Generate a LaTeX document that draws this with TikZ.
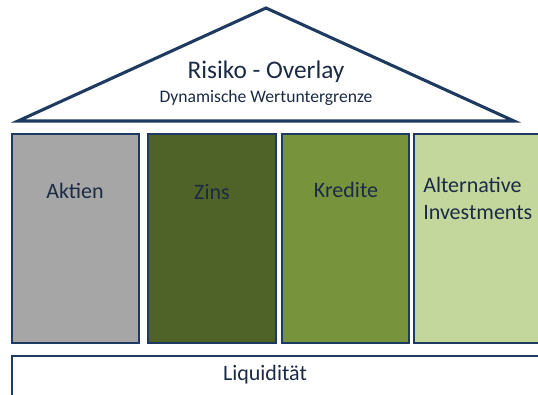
\documentclass[tikz,border=0pt]{standalone}
\usepackage{fontspec}
\setmainfont{Carlito}
\definecolor{navy}{HTML}{1F3A60}
\definecolor{txt}{HTML}{1C2B45}
\definecolor{cgray}{HTML}{A6A6A6}
\definecolor{cdark}{HTML}{4F6228}
\definecolor{cmid}{HTML}{77933C}
\definecolor{clight}{HTML}{C3D69B}
\tikzset{
  pillar/.style={draw=navy, line width=1.9pt, rectangle, inner sep=0pt,
    minimum height=156.75pt},
  lbl/.style={text=txt, font=\fontsize{16.5pt}{20pt}\selectfont, inner sep=0pt},
}
\begin{document}
\begin{tikzpicture}[x=0.75pt,y=-0.75pt]
\useasboundingbox (0,0) rectangle (538,394);
\clip (0,0) rectangle (538,394);
\fill[white] (0,0) rectangle (538,394);
% roof
\coordinate (apex) at (266,8);
\coordinate (bl) at (18,121);
\coordinate (br) at (514,121);
\draw[navy, line width=2.3pt, line join=miter] (apex) -- (bl) -- (br) -- cycle;
\node[text=txt, font=\fontsize{19pt}{22pt}\selectfont, inner sep=0pt] (risk) at (266,72) {Risiko - Overlay};
\node[text=txt, font=\fontsize{13.2pt}{16pt}\selectfont, inner sep=0pt] (dyn) at (266,98) {Dynamische Wertuntergrenze};
% pillars
\node[pillar, fill=cgray, minimum width=95.25pt] (aktien) at (75.5,238.5) {};
\node[pillar, fill=cdark, minimum width=96pt] (zins) at (212,238.5) {};
\node[pillar, fill=cmid, minimum width=95.25pt] (kredite) at (345.5,238.5) {};
\node[pillar, fill=clight, minimum width=98.25pt] (alt) at (479.5,238.5) {};
\node[lbl] (taktien) at (75,191) {Aktien};
\node[lbl] (tzins) at (212,192) {Zins};
\node[lbl] (tkredite) at (346,190) {Kredite};
\node[lbl, anchor=west, align=left, font=\fontsize{16.5pt}{20.25pt}\selectfont] (talt) at (423,198.5) {Alternative\\Investments};
% base
\node[draw=navy, line width=1.9pt, rectangle, inner sep=0pt, fill=white,
  minimum width=399.75pt, minimum height=33pt] (liq) at (278.5,378) {};
\node[lbl] (tliq) at (265,375) {Liquidität};
\end{tikzpicture}
\end{document}
